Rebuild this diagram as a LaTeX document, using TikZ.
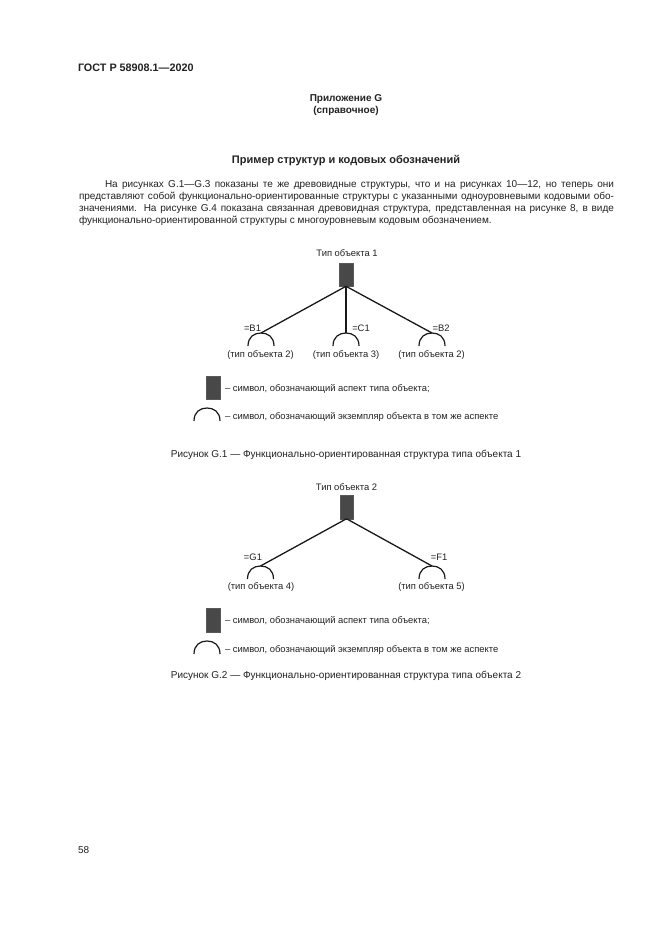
\documentclass[tikz,border=0pt]{standalone}
\usepackage{fontspec}
\setmainfont{Liberation Sans}
\definecolor{ink}{HTML}{222222}
\definecolor{aspect}{HTML}{484848}
\tikzset{
  x=1bp,y=-1bp,
  txt/.style={inner sep=0pt,outer sep=0pt,anchor=base,text=ink,font=\fontsize{10bp}{12bp}\selectfont},
  txtl/.style={txt,anchor=base west},
  dia/.style={txt,font=\fontsize{9.4bp}{11bp}\selectfont},
  dial/.style={txtl,font=\fontsize{9.4bp}{11bp}\selectfont},
  head/.style={txt,font=\bfseries\fontsize{10bp}{12bp}\selectfont},
  aspectbox/.style={draw=black!65,fill=aspect,line width=0.5bp,minimum width=13.5bp,minimum height=23.5bp,inner sep=0pt,outer sep=0pt},
  link/.style={draw=black!90,line width=1.3bp},
  instance/.style={draw=black!90,line width=1.2bp},
}
\newcommand{\instarc}[2]{\draw[instance] (#1-13,#2+13) .. controls (#1-13,#2+4) and (#1-7,#2) .. (#1,#2) .. controls (#1+7,#2) and (#1+13,#2+4) .. (#1+13,#2+13);}
\begin{document}
\begin{tikzpicture}
\useasboundingbox[fill=white] (0,0) rectangle (661,935);
\node[txtl,font=\bfseries\fontsize{10.8bp}{13bp}\selectfont] (gost) at (78,71) {ГОСТ Р 58908.1—2020};
\node[head] (app) at (346,101.5) {Приложение G};
\node[head] (ref) at (346,113) {(справочное)};
\node[head,font=\bfseries\fontsize{11bp}{13bp}\selectfont] (title) at (346,163) {Пример структур и кодовых обозначений};
\node[txtl] (p1) at (105,187.5) {\hbox to 509bp{На рисунках G.1—G.3 показаны те же древовидные структуры, что и на рисунках 10—12, но теперь они}};
\node[txtl] (p2) at (79,199.5) {\hbox to 535bp{представляют собой функционально-ориентированные структуры с указанными одноуровневыми кодовыми обо-}};
\node[txtl] (p3) at (79,211.5) {\hbox to 535bp{значениями. На рисунке G.4 показана связанная древовидная структура, представленная на рисунке 8, в виде}};
\node[txtl] (p4) at (79,223.5) {функционально-ориентированной структуры с многоуровневым кодовым обозначением.};
% Figure G.1
\node[dia] (t1) at (347,256.5) {Тип объекта 1};
\node[aspectbox] (r1) at (346,274.5) {};
\coordinate (a11) at (261,333);
\coordinate (a12) at (346,333);
\coordinate (a13) at (432,333);
\draw[link] (r1.south) -- (a11);
\draw[link] (r1.south) -- (a12);
\draw[link] (r1.south) -- (a13);
\instarc{261}{333}\instarc{346}{333}\instarc{432}{333}
\node[dia] (l11) at (252.5,331) {=B1};
\node[dia] (l12) at (361,331) {=C1};
\node[dia] (l13) at (441,331) {=B2};
\node[dia] (n11) at (260.5,357) {(тип объекта 2)};
\node[dia] (n12) at (346,357) {(тип объекта 3)};
\node[dia] (n13) at (431.5,357) {(тип объекта 2)};
\node[aspectbox] (lr1) at (213,387.5) {};
\node[dial] (lt1) at (225,391) {– символ, обозначающий аспект типа объекта;};
\instarc{207}{408}
\node[dial] (lt2) at (225,419.5) {– символ, обозначающий экземпляр объекта в том же аспекте};
\node[txt] (c1) at (346,457.5) {Рисунок G.1 — Функционально-ориентированная структура типа объекта 1};
% Figure G.2
\node[dia] (t2) at (346.5,490) {Тип объекта 2};
\node[aspectbox] (r2) at (346.5,507) {};
\coordinate (a21) at (260.5,566);
\coordinate (a22) at (432,566);
\draw[link] (r2.south) -- (a21);
\draw[link] (r2.south) -- (a22);
\instarc{260.5}{566}\instarc{432}{566}
\node[dia] (l21) at (253,560.5) {=G1};
\node[dia] (l22) at (439,560.5) {=F1};
\node[dia] (n21) at (261,589.5) {(тип объекта 4)};
\node[dia] (n22) at (431.5,589.5) {(тип объекта 5)};
\node[aspectbox] (lr2) at (213,620) {};
\node[dial] (lt3) at (225,623.5) {– символ, обозначающий аспект типа объекта;};
\instarc{207}{641}
\node[dial] (lt4) at (225,652.5) {– символ, обозначающий экземпляр объекта в том же аспекте};
\node[txt] (c2) at (346,678) {Рисунок G.2 — Функционально-ориентированная структура типа объекта 2};
\node[txtl] (pg) at (78,853) {58};
\end{tikzpicture}
\end{document}
